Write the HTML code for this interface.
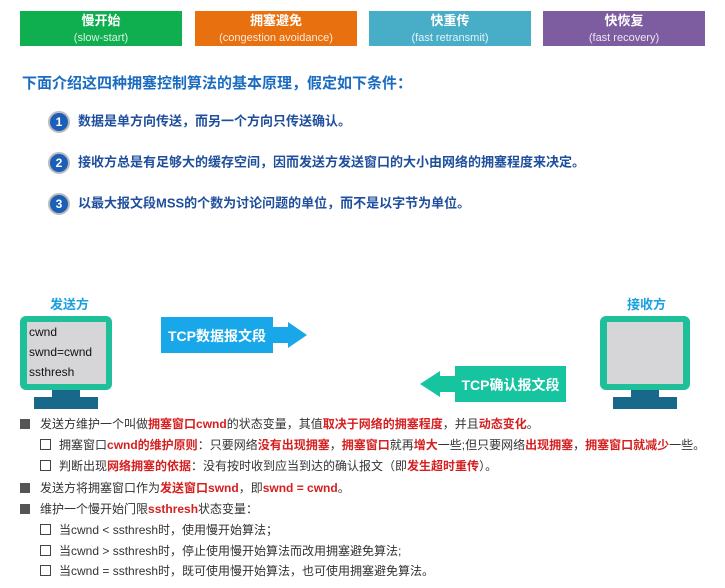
<!DOCTYPE html>
<html><head><meta charset="utf-8"><style>
body{margin:0;width:725px;height:588px;background:#fff;position:relative;font-family:"Liberation Sans","Noto Sans CJK SC",sans-serif;overflow:hidden}
.a{position:absolute}
.tb{position:absolute;top:11px;width:162px;height:35px;color:#fff;text-align:center;font-size:12px;line-height:16px;padding-top:2px;box-sizing:border-box}
.tb b{display:block;font-size:13px}
.tb span{opacity:.85;font-size:11px}
.h{left:22px;top:72px;font-size:15px;font-weight:bold;color:#1b6cc0}
.it{left:48px;font-size:13px;font-weight:bold;color:#1f4f9c;line-height:20px}
.c{display:inline-block;width:18px;height:18px;border-radius:50%;background:#1b5fb8;border:2px solid #bbb;color:#fff;text-align:center;line-height:18px;font-size:12px;margin-right:8px;vertical-align:middle;box-sizing:content-box}
.r{color:#d42020;font-weight:bold}
.l{position:absolute;font-size:12px;color:#333;line-height:16px;white-space:nowrap}
.sq{display:inline-block;width:10px;height:10px;background:#555;margin-right:10px;vertical-align:-1px}
.cb{display:inline-block;width:9px;height:9px;border:1.5px solid #444;margin-right:8px;vertical-align:-1px}
</style></head><body>
<div class="tb" style="left:20px;background:#0fae4e"><b>慢开始</b><span>(slow-start)</span></div>
<div class="tb" style="left:195px;background:#e8700f"><b>拥塞避免</b><span>(congestion avoidance)</span></div>
<div class="tb" style="left:369px;background:#48aec8"><b>快重传</b><span>(fast retransmit)</span></div>
<div class="tb" style="left:543px;background:#7d5da0"><b>快恢复</b><span>(fast recovery)</span></div>
<div class="a h">下面介绍这四种拥塞控制算法的基本原理，假定如下条件：</div>
<div class="a it" style="top:111px"><span class="c">1</span>数据是单方向传送，而另一个方向只传送确认。</div>
<div class="a it" style="top:152px"><span class="c">2</span>接收方总是有足够大的缓存空间，因而发送方发送窗口的大小由网络的拥塞程度来决定。</div>
<div class="a it" style="top:193px"><span class="c">3</span>以最大报文段MSS的个数为讨论问题的单位，而不是以字节为单位。</div>

<div class="a" style="left:50px;top:294px;font-size:13px;font-weight:bold;color:#1aa0e0">发送方</div>
<div class="a" style="left:20px;top:316px;width:92px;height:74px;background:#1fbf9a;border-radius:6px"></div>
<div class="a" style="left:27px;top:322px;width:79px;height:62px;background:#d6d6d8;font-size:12px;line-height:20px;color:#111;padding-left:2px;box-sizing:border-box">cwnd<br>swnd=cwnd<br>ssthresh</div>
<div class="a" style="left:52px;top:390px;width:28px;height:8px;background:#17688a"></div>
<div class="a" style="left:34px;top:397px;width:64px;height:12px;background:#17688a"></div>

<div class="a" style="left:627px;top:294px;font-size:13px;font-weight:bold;color:#1aa0e0">接收方</div>
<div class="a" style="left:600px;top:316px;width:90px;height:74px;background:#1fbf9a;border-radius:6px"></div>
<div class="a" style="left:607px;top:322px;width:76px;height:62px;background:#d6d6d8"></div>
<div class="a" style="left:631px;top:390px;width:28px;height:8px;background:#17688a"></div>
<div class="a" style="left:613px;top:397px;width:64px;height:12px;background:#17688a"></div>

<svg class="a" style="left:0;top:0" width="725" height="588">
<rect x="161" y="317" width="112" height="36" fill="#18a8ea"/>
<polygon points="273,327 288,327 288,322 307,335 288,348 288,343 273,343" fill="#18a8ea"/>
<rect x="455" y="366" width="111" height="36" fill="#17c4a0"/>
<polygon points="455,376 440,376 440,371 420,384 440,397 440,392 455,392" fill="#17c4a0"/>
</svg>
<div class="a" style="left:161px;top:326px;width:112px;text-align:center;color:#fff;font-size:14px;font-weight:bold">TCP数据报文段</div>
<div class="a" style="left:455px;top:375px;width:111px;text-align:center;color:#fff;font-size:14px;font-weight:bold">TCP确认报文段</div>

<div class="l" style="left:20px;top:416px"><span class="sq"></span>发送方维护一个叫做<span class="r">拥塞窗口cwnd</span>的状态变量，其值<span class="r">取决于网络的拥塞程度</span>，并且<span class="r">动态变化</span>。</div>
<div class="l" style="left:40px;top:437px"><span class="cb"></span>拥塞窗口<span class="r">cwnd的维护原则</span>：只要网络<span class="r">没有出现拥塞</span>，<span class="r">拥塞窗口</span>就再<span class="r">增大</span>一些;但只要网络<span class="r">出现拥塞</span>，<span class="r">拥塞窗口就减少</span>一些。</div>
<div class="l" style="left:40px;top:458px"><span class="cb"></span>判断出现<span class="r">网络拥塞的依据</span>：没有按时收到应当到达的确认报文（即<span class="r">发生超时重传</span>）。</div>
<div class="l" style="left:20px;top:480px"><span class="sq"></span>发送方将拥塞窗口作为<span class="r">发送窗口swnd</span>，即<span class="r">swnd = cwnd</span>。</div>
<div class="l" style="left:20px;top:501px"><span class="sq"></span>维护一个慢开始门限<span class="r">ssthresh</span>状态变量：</div>
<div class="l" style="left:40px;top:522px"><span class="cb"></span>当cwnd &lt; ssthresh时，使用慢开始算法；</div>
<div class="l" style="left:40px;top:543px"><span class="cb"></span>当cwnd &gt; ssthresh时，停止使用慢开始算法而改用拥塞避免算法;</div>
<div class="l" style="left:40px;top:563px"><span class="cb"></span>当cwnd = ssthresh时，既可使用慢开始算法，也可使用拥塞避免算法。</div>
</body></html>
